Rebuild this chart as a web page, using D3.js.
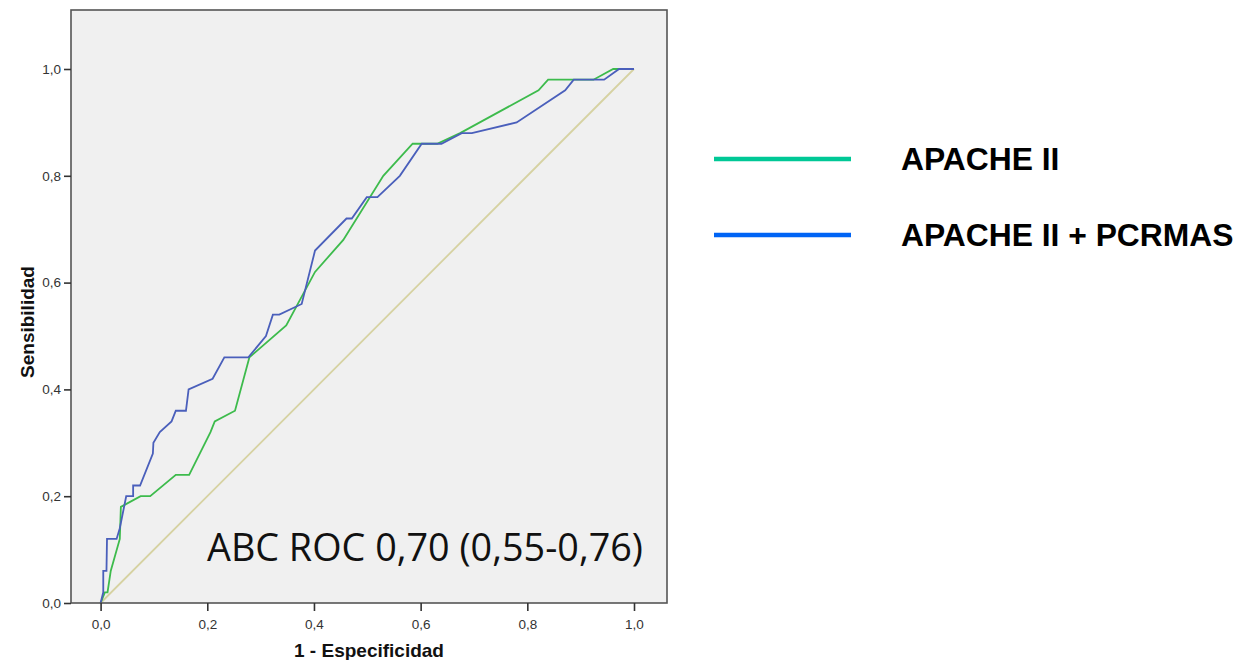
<!DOCTYPE html>
<html>
<head>
<meta charset="utf-8">
<script src="https://cdn.jsdelivr.net/npm/d3@7"></script>
<style>
  body { margin: 0; background: #fff; }
  svg { display: block; }
</style>
</head>
<body>
<svg id="chart" width="1245" height="660"></svg>
<script>
// 1 - especificidad / sensibilidad
const apacheFpr = [0, 0.008, 0.013, 0.019, 0.036, 0.038, 0.075, 0.093, 0.141, 0.166, 0.206, 0.214, 0.252, 0.279, 0.348, 0.402, 0.455, 0.53, 0.585, 0.631, 0.674, 0.821, 0.839, 0.924, 0.961, 1]
const apacheTpr = [0, 0.02, 0.02, 0.06, 0.12, 0.18, 0.20, 0.20, 0.24, 0.24, 0.32, 0.34, 0.36, 0.46, 0.52, 0.62, 0.68, 0.80, 0.86, 0.86, 0.88, 0.96, 0.98, 0.98, 1, 1]

const pcrFpr = [0, 0.005, 0.005, 0.011, 0.012, 0.030, 0.036, 0.048, 0.061, 0.061, 0.074, 0.098, 0.099, 0.111, 0.133, 0.141, 0.160, 0.165, 0.210, 0.232, 0.277, 0.310, 0.323, 0.335, 0.377, 0.402, 0.461, 0.471, 0.499, 0.519, 0.561, 0.602, 0.639, 0.677, 0.696, 0.780, 0.871, 0.887, 0.944, 0.972, 1]
const pcrTpr = [0, 0.02, 0.06, 0.06, 0.12, 0.12, 0.14, 0.20, 0.20, 0.22, 0.22, 0.28, 0.30, 0.32, 0.34, 0.36, 0.36, 0.40, 0.42, 0.46, 0.46, 0.50, 0.54, 0.54, 0.56, 0.66, 0.72, 0.72, 0.76, 0.76, 0.80, 0.86, 0.86, 0.88, 0.88, 0.90, 0.96, 0.98, 0.98, 1, 1]

const ticks = [0, 0.2, 0.4, 0.6, 0.8, 1.0]
const legendNames = ['APACHE II', 'APACHE II + PCRMAS']
const annotation = 'ABC ROC 0,70 (0,55-0,76)'

const svg = d3.select('#chart')

// marco del gráfico
const frame = { left: 71, right: 667, top: 10, bottom: 603 }

const x = d3.scaleLinear().domain([0, 1]).range([100.6, 634])
const y = d3.scaleLinear().domain([0, 1]).range([603, 69])

const fmt = d3.formatLocale({ decimal: ',', thousands: '.', grouping: [3], currency: ['', '€'] }).format('.1f')

svg.append('rect')
  .attr('x', frame.left)
  .attr('y', frame.top)
  .attr('width', frame.right - frame.left)
  .attr('height', frame.bottom - frame.top)
  .style('fill', '#f0f0f0')

// diagonal de referencia
svg.append('line')
  .attr('x1', x(0)).attr('y1', y(0))
  .attr('x2', x(1)).attr('y2', y(1))
  .style('stroke', '#d6d2a2')
  .style('stroke-width', 1.8)

const line = d3.line()
  .x(d => x(d[0]))
  .y(d => y(d[1]))

svg.append('path')
  .datum(apacheFpr.map((v, i) => [v, apacheTpr[i]]))
  .attr('d', line)
  .style('fill', 'none')
  .style('stroke', '#3dbb4c')
  .style('stroke-width', 1.8)

svg.append('path')
  .datum(pcrFpr.map((v, i) => [v, pcrTpr[i]]))
  .attr('d', line)
  .style('fill', 'none')
  .style('stroke', '#4a5fbb')
  .style('stroke-width', 1.8)

svg.append('rect')
  .attr('x', frame.left)
  .attr('y', frame.top)
  .attr('width', frame.right - frame.left)
  .attr('height', frame.bottom - frame.top)
  .style('fill', 'none')
  .style('stroke', '#555')
  .style('stroke-width', 1.6)

// ejes
const xAxis = svg.append('g')
  .attr('transform', `translate(0,${frame.bottom})`)
  .call(d3.axisBottom(x).tickValues(ticks).tickFormat(fmt).tickSize(8).tickSizeOuter(0))
xAxis.select('.domain').remove()

const yAxis = svg.append('g')
  .attr('transform', `translate(${frame.left},0)`)
  .call(d3.axisLeft(y).tickValues(ticks).tickFormat(fmt).tickSize(7).tickSizeOuter(0))
yAxis.select('.domain').remove()

svg.selectAll('.tick line').style('stroke', '#333').style('stroke-width', 1.6)
svg.selectAll('.tick text')
  .style('font-family', 'Liberation Sans, Arial, sans-serif')
  .style('font-size', '13.5px')
  .style('fill', '#333')
xAxis.selectAll('.tick text').attr('dy', '1.1em')
yAxis.selectAll('.tick text').attr('x', -10)

svg.append('text')
  .attr('x', 369)
  .attr('y', 657)
  .attr('text-anchor', 'middle')
  .style('font-family', 'Liberation Sans, Arial, sans-serif')
  .style('font-weight', 'bold')
  .style('font-size', '19px')
  .style('fill', '#111')
  .text('1 - Especificidad')

svg.append('text')
  .attr('transform', 'translate(34,322) rotate(-90)')
  .attr('text-anchor', 'middle')
  .style('font-family', 'Liberation Sans, Arial, sans-serif')
  .style('font-weight', 'bold')
  .style('font-size', '19px')
  .style('fill', '#111')
  .text('Sensibilidad')

// área bajo la curva
svg.append('text')
  .attr('x', 207)
  .attr('y', 561)
  .attr('textLength', 436)
  .attr('lengthAdjust', 'spacingAndGlyphs')
  .style('font-family', 'Open Sans, sans-serif')
  .style('font-size', '39px')
  .style('fill', '#111')
  .text(annotation)

// leyenda
const legendColors = ['#00c896', '#0064f5']
const legend = svg.selectAll('.legend')
  .data(legendNames)
  .enter().append('g')
  .attr('class', 'legend')
  .attr('transform', (d, i) => `translate(714,${159 + i * 76})`)

legend.append('line')
  .attr('x1', 0).attr('x2', 137)
  .style('stroke', (d, i) => legendColors[i])
  .style('stroke-width', 4.5)

legend.append('text')
  .attr('x', 187)
  .attr('y', 11)
  .style('font-family', 'Liberation Sans, Arial, sans-serif')
  .style('font-weight', 'bold')
  .style('font-size', '31.8px')
  .style('fill', '#000')
  .text(d => d)
</script>
</body>
</html>
